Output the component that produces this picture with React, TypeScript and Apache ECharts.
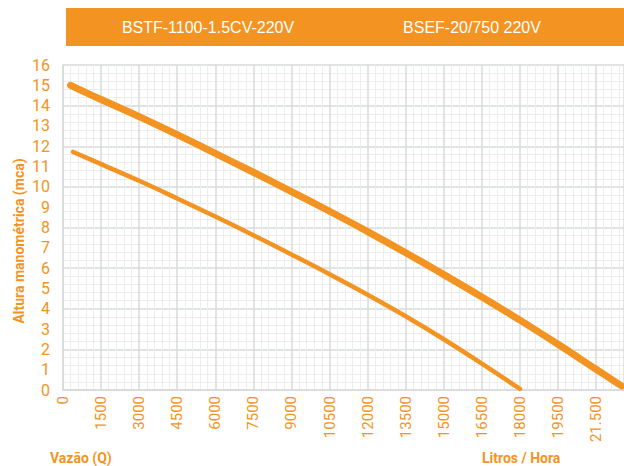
import React, { useEffect, useRef } from "react";
import * as echarts from "echarts";

const ORANGE = "#F39322";
const MAJOR = "#d8dada";
const MINOR = "#eceeee";

const seriesNames = ["BSTF-1100-1.5CV-220V", "BSEF-20/750 220V"];
const xTickLabels = ["0", "1500", "3000", "4500", "6000", "7500", "9000", "10500", "12000", "13500", "15000", "16500", "18000", "19500", "21.500"];
const yTickLabels = ["0", "1", "2", "3", "4", "5", "6", "7", "8", "9", "10", "11", "12", "13", "14", "15", "16"];

const bstfFlow = [300, 1500, 3000, 4500, 6000, 7500, 9000, 10500, 12000, 13500, 15000, 16500, 18000, 19500, 21000, 22000];
const bstfHead = [15.0, 14.3, 13.46, 12.57, 11.65, 10.72, 9.77, 8.8, 7.8, 6.76, 5.68, 4.58, 3.44, 2.25, 1.02, 0.2];

const bsefFlow = [400, 1500, 3000, 4500, 6000, 7500, 9000, 10500, 12000, 13500, 15000, 16500, 18000];
const bsefHead = [11.72, 11.12, 10.3, 9.43, 8.54, 7.62, 6.67, 5.7, 4.69, 3.63, 2.5, 1.3, 0.05];

export default function App() {
  const ref = useRef<HTMLDivElement>(null);
  useEffect(() => {
    if (!ref.current) return;
    const chart = echarts.init(ref.current, null, { renderer: "svg" });
    const pair = (xs: number[], ys: number[]) => xs.map((x, i) => [x, ys[i]]);
    chart.setOption({
      animation: false,
      backgroundColor: "#ffffff",
      textStyle: { fontFamily: "Roboto" },
      grid: { left: 63, right: 0, top: 65, bottom: 76, containLabel: false },
      xAxis: {
        type: "value",
        min: 0,
        max: 22100,
        interval: 1500,
        axisLine: { show: true, lineStyle: { color: MAJOR, width: 1.5 } },
        axisTick: { show: false },
        axisLabel: {
          rotate: 90,
          margin: 6,
          color: ORANGE,
          fontSize: 15,
          fontFamily: "Roboto",
          showMaxLabel: false,
          formatter: (v: number) => {
            const idx = Math.round(v / 1500);
            return v % 1500 === 0 && idx < xTickLabels.length ? xTickLabels[idx] : "";
          },
        },
        splitLine: { show: true, lineStyle: { color: MAJOR, width: 1.5 } },
        minorTick: { show: false, splitNumber: 5 },
        minorSplitLine: { show: true, lineStyle: { color: MINOR, width: 1 } },
      },
      yAxis: [
        {
          type: "value",
          min: 0,
          max: 16,
          interval: 1,
          axisLine: { show: true, lineStyle: { color: MAJOR, width: 1.5 } },
          axisTick: { show: false },
          axisLabel: {
            margin: 13,
            color: ORANGE,
            fontSize: 16,
            fontFamily: "Roboto",
            formatter: (v: number) => yTickLabels[Math.round(v)] ?? "",
          },
          splitLine: { show: false },
        },
        {
          type: "value",
          min: 0,
          max: 16,
          interval: 2,
          position: "left",
          axisLine: { show: false },
          axisTick: { show: false },
          axisLabel: { show: false },
          splitLine: { show: true, lineStyle: { color: MAJOR, width: 1.5 } },
          minorTick: { show: false, splitNumber: 5 },
          minorSplitLine: { show: true, lineStyle: { color: MINOR, width: 1 } },
        },
      ],
      series: [
        {
          name: seriesNames[0],
          type: "line",
          yAxisIndex: 0,
          data: pair(bstfFlow, bstfHead),
          smooth: 0.4,
          showSymbol: false,
          lineStyle: { color: ORANGE, width: 7, cap: "round", join: "round" },
          z: 5,
        },
        {
          name: seriesNames[1],
          type: "line",
          yAxisIndex: 0,
          data: pair(bsefFlow, bsefHead),
          smooth: 0.4,
          showSymbol: false,
          lineStyle: { color: ORANGE, width: 4.5, cap: "round", join: "round" },
          z: 5,
        },
      ],
      graphic: [
        {
          type: "rect",
          shape: { x: 66, y: 8, width: 558, height: 38 },
          style: { fill: ORANGE },
          silent: true,
        },
        {
          type: "text",
          x: 208,
          y: 27,
          style: {
            text: seriesNames[0],
            fill: "#ffffff",
            font: '16px "Liberation Sans", Arial, sans-serif',
            align: "center",
            verticalAlign: "middle",
          },
        },
        {
          type: "text",
          x: 472,
          y: 27,
          style: {
            text: seriesNames[1],
            fill: "#ffffff",
            font: '16px "Liberation Sans", Arial, sans-serif',
            align: "center",
            verticalAlign: "middle",
          },
        },
        {
          type: "text",
          x: 18.5,
          y: 241,
          rotation: Math.PI / 2,
          style: {
            text: "Altura manométrica (mca)",
            fill: ORANGE,
            font: 'bold 14px Roboto, sans-serif',
            align: "center",
            verticalAlign: "middle",
          },
        },
        {
          type: "text",
          x: 50,
          y: 458,
          style: {
            text: "Vazão (Q)",
            fill: ORANGE,
            font: 'bold 14px Roboto, sans-serif',
            align: "left",
            verticalAlign: "middle",
          },
        },
        {
          type: "text",
          x: 482,
          y: 458,
          style: {
            text: "Litros / Hora",
            fill: ORANGE,
            font: 'bold 14px Roboto, sans-serif',
            align: "left",
            verticalAlign: "middle",
          },
        },
      ],
    });
    return () => chart.dispose();
  }, []);
  return <div ref={ref} style={{ position: "fixed", left: 0, top: 0, width: 624, height: 466 }} />;
}
